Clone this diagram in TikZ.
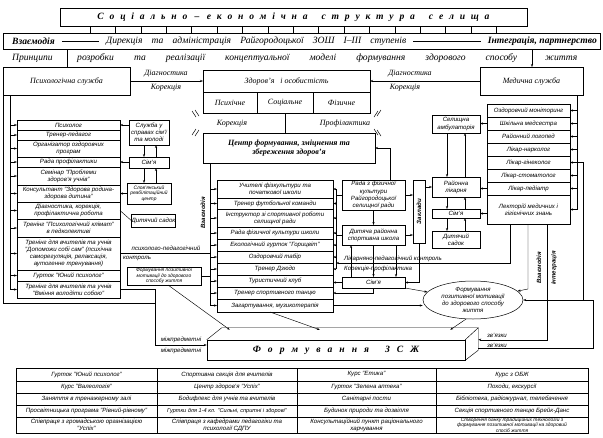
\documentclass[tikz,border=0pt]{standalone}
\usepackage{fontspec}
\usepackage{graphicx}
\setmainfont{Liberation Serif}
\setsansfont{Liberation Sans}
\usetikzlibrary{arrows.meta,calc,shapes.geometric}
\newcommand\tx{\sffamily\itshape\fontsize{6.1}{7.1}\selectfont}
\newcommand\tsm{\sffamily\itshape\fontsize{4.9}{5.5}\selectfont}
\newcommand\hx{\rmfamily\itshape\fontsize{8}{9}\selectfont}
\newcommand\hb{\rmfamily\itshape\fontsize{9.6}{10.5}\selectfont}
\newcommand\Bx[7][]{\node[bx,#1,minimum width={(#5-#3)*1pt},minimum height={(#6-#4)*1pt}] (#2) at ({(#3+#5)/2},{(#4+#6)/2}) {#7};}
\begin{document}
\begin{tikzpicture}[x=1pt,y=-1pt,
  bx/.style={draw,inner sep=0.4pt,outer sep=0pt,align=center,font=\tx,line width=0.5pt},
  ar/.style={-{Stealth[length=3pt,width=2.2pt]},line width=0.45pt},
  ln/.style={line width=0.45pt},
  lb/.style={font=\hx,inner sep=0pt},
  sl/.style={font=\tx,inner sep=0pt}]
\useasboundingbox (0,0) rectangle (603,437);

% ---------- top rows ----------
\Bx[font=\hb\bfseries]{soc}{60}{8}{527}{26}{\spaceskip=5.8pt С о ц і а л ь н о \,–\, е к о н о м і ч н а\hskip14pt с т р у к т у р а\hskip14pt с е л и щ а}
\node[draw,line width=0.5pt,minimum width=597pt,minimum height=16pt,inner sep=0pt] (dir) at (301.5,41) {};
\node[lb,anchor=west,font=\hb\bfseries] (vz) at (12,41) {Взаємодія};
\node[lb,anchor=west,font=\hb] (dr) at (106,41) {\makebox[300pt][s]{Дирекція та адміністрація Райгородоцької ЗОШ І–ІІІ ступенів}};
\node[lb,anchor=east,font=\hb\bfseries] (int) at (597,41) {Інтеграція, партнерство};
\draw[ln,shorten <=7pt,shorten >=7pt] (vz) -- (dr);
\draw[ln,shorten <=7pt,shorten >=7pt] (dr) -- (int);
\foreach \i in {0,...,16}{
  \pgfmathsetmacro\xx{90+\i*25.4}
  \draw[ln] (\xx,0 |- soc.south) -- (\xx,0 |- dir.north);
}
\node[lb,anchor=west,font=\hb] (pr) at (12,58) {Принципи};
\node[lb,anchor=west,font=\hb] (rz) at (77,58) {\makebox[440pt][s]{розробки та реалізації концептуальної моделі формування здорового способу}};
\node[lb,anchor=west,font=\hb] (zh) at (545,58) {життя};

% ---------- services ----------
\Bx[font=\hx]{psy}{3}{67}{130}{95}{Психологічна служба}
\Bx[font=\hx]{hl}{203}{70}{370}{92}{Здоров’я \ \ і особистість}
\Bx[font=\hx]{ps1}{203}{92}{257}{113}{Психічне}
\Bx[font=\hx]{ps2}{257}{92}{313}{113}{Соціальне}
\Bx[font=\hx]{ps3}{313}{92}{370}{113}{Фізичне}
\Bx[font=\hx]{med}{480}{67}{583}{95}{Медична служба}
\draw[ln] (67,0 |- dir.south) -- (67,0 |- psy.north);
\draw[ar] (532,0 |- dir.south) -- (532,0 |- med.north);
\node[lb] (d1) at (166,74) {Діагностика};
\node[lb] (k1) at (166,88) {Корекція};
\node[lb] (d2) at (410,74) {Діагностика};
\node[lb] (k2) at (405,88) {Корекція};
\draw[ar] (psy) -- (hl);
\draw[ar] (med) -- (hl);

\Bx[font=\hx\bfseries]{cen}{203}{133}{375}{163}{Центр формування, зміцнення та\\збереження здоров’я}
\draw[ln] (ps2.south) -- (ps2.south |- cen.north);
\node[lb] (kor) at (232,124) {Корекція};
\node[lb] (prf) at (345,124) {Профілактика};
\draw[ln] (192,111) -- (196,117) (195,110) -- (199,116);
\draw[ln] (378,111) -- (374,117) (381,110) -- (377,116);
\draw[ln] (192,135) -- (196,129) (195,136) -- (199,130);
\draw[ln] (378,135) -- (374,129) (381,136) -- (377,130);

% ---------- left list ----------
\Bx{l1}{17}{120}{120}{130}{Психолог}
\Bx{l2}{17}{130}{120}{140}{Тренер-педагог}
\Bx{l3}{17}{140}{120}{157}{Організатор оздоровчих\\програм}
\Bx{l4}{17}{157}{120}{167}{Рада профілактики}
\Bx{l5}{17}{167}{120}{185}{Семінар "Проблеми\\здоров’я учнів"}
\Bx{l6}{17}{185}{120}{202}{Консультант "Здорова родина-\\здорова дитина"}
\Bx{l7}{17}{202}{120}{219}{Діагностика, корекція,\\профілактична робота}
\Bx{l8}{17}{219}{120}{237}{Тренінг "Психологічний клімат"\\в педколективі}
\Bx{l9}{17}{237}{120}{270}{Тренінг для вчителів та учнів\\"Допоможи собі сам" (психічна\\саморегуляція, релаксація,\\аутогенне тренування)}
\Bx{l10}{17}{270}{120}{281}{Гурток "Юний психолог"}
\Bx{l11}{17}{281}{120}{298}{Тренінг для вчителів та учнів\\"Вміння володіти собою"}
\draw[ln] (10,0 |- psy.south) -- (10,0 |- l11.west);
\foreach \i in {1,...,11}{\draw[ar] (10,0 |- l\i.west) -- (l\i.west);}

\Bx{slu}{129}{120}{169}{145}{Служба у\\справах сім’ї\\та молоді}
\Bx{siml}{129}{157}{169}{168}{Сім’я}
\Bx[font=\tsm]{slov}{127}{183}{171}{204}{Слов’янський\\реабілітаційний\\центр}
\Bx{sadl}{133}{214}{174}{227}{Дитячий садок}
\draw[ar] (slu.west |- l1.east) -- (l1.east);
\draw[ar] (siml.west |- l4.east) -- (l4.east);
\draw[ar] (slov.west |- l6.east) -- (l6.east);
\draw[ar] (144,0 |- slu.south) -- (144,0 |- siml.north);
\draw[ar] (156,0 |- siml.north) -- (156,0 |- slu.south);
\draw[ar] (144,0 |- siml.south) -- (144,0 |- slov.north);
\draw[ar] (156,0 |- slov.north) -- (156,0 |- siml.south);
\draw[ln] (l7.east) -- (sadl.west);
\node[sl,rotate=90,font=\tx\bfseries] (vzl) at (203,213) {Взаємодія};

\node[sl] (ppk1) at (166,248) {психолого-педагогічний};
\node[sl] (ppk2) at (137,258) {контроль};
\draw[ln] (l9.east |- 0,253) -- (210,253);

\Bx[font=\tsm]{fm}{127}{267}{201}{285}{Формування позитивної\\мотивації до здорового\\способу життя}

% ---------- centre list ----------
\Bx{c1}{217}{180}{333}{198}{Учителі фізкультури та\\початкової школи}
\Bx{c2}{217}{198}{333}{209}{Тренер футбольної команди}
\Bx{c3}{217}{209}{333}{227}{Інструктор зі спортивної роботи\\селищної ради}
\Bx{c4}{217}{227}{333}{239}{Рада фізичної культури школи}
\Bx{c5}{217}{239}{333}{251}{Екологічний гурток "Горицвіт"}
\Bx{c6}{217}{251}{333}{263}{Оздоровчий табір}
\Bx{c7}{217}{263}{333}{275}{Тренер Дзюдо}
\Bx{c8}{217}{275}{333}{287}{Туристичний клуб}
\Bx{c9}{217}{287}{333}{299}{Тренер спортивного танцю}
\Bx{c10}{217}{299}{333}{312}{Загартування, музикотерапія}
\draw[ln] (210,0 |- cen.south) -- (210,0 |- c10.west);
\foreach \i in {1,...,10}{\draw[ar] (210,0 |- c\i.west) -- (c\i.west);}
\draw[ln] (fm.east) -- (210,0 |- fm.east);
\draw[ln] (336,0 |- c1.east) -- (336,0 |- c7.east);
\foreach \i in {1,...,7}{\draw[ar] (336,0 |- c\i.east) -- (c\i.east);}

\Bx{rada}{342}{180}{405}{210}{Рада з фізичної\\культури\\Райгородоцької\\селищної ради}
\Bx{dyt}{342}{225}{405}{245}{Дитяча районна\\спортивна школа}
\Bx{simc}{342}{277}{405}{288}{Сім’я}
\draw[ln] (rada.west) -- (336,0 |- rada.west);
\draw[ln] (dyt.west) -- (336,0 |- dyt.west);
\draw[ar] (rada.south) -- (dyt.north);
\draw[ar] (dyt.south) -- (simc.north);
\draw[ar] (351,0 |- simc.north) -- (351,0 |- dyt.south);
\draw[ar] (396,0 |- dyt.south) -- (396,0 |- simc.north);
\draw[ar] (390,0 |- rada.north) |- (cen.east);
\draw[ar] (simc.west) -- (simc.west -| c8.east);
\draw[ar] (simc.south) |- (c9.east);

\Bx{zak}{413}{180}{425}{243}{\rotatebox{90}{\bfseries Заклади}}
\draw[ar] (rada.east) -- (rada.east -| zak.west);
\draw[ar] (dyt.east) -- (dyt.east -| zak.west);
\draw[ar] (zak.south) |- (simc.east);

% ---------- right column ----------
\Bx{amb}{432}{115}{480}{133}{Селищна\\амбулаторія}
\Bx{lik}{432}{177}{480}{197}{Районна\\лікарня}
\Bx{simr}{432}{209}{480}{218}{Сім’я}
\Bx{sadr}{432}{231}{480}{248}{Дитячий\\садок}
\draw[ar] (zak.east |- lik.west) -- (lik.west);
\draw[ar] (447,0 |- amb.south) -- (447,0 |- lik.north);
\draw[ar] (465,0 |- lik.north) -- (465,0 |- amb.south);
\draw[ar] (447,0 |- lik.south) -- (447,0 |- simr.north);
\draw[ar] (465,0 |- simr.north) -- (465,0 |- lik.south);
\draw[ar] (447,0 |- simr.south) -- (447,0 |- sadr.north);
\draw[ar] (465,0 |- sadr.north) -- (465,0 |- simr.south);

\Bx{m1}{487}{104}{570}{117}{Оздоровчий моніторинг}
\Bx{m2}{487}{117}{570}{130}{Шкільна медсестра}
\Bx{m3}{487}{130}{570}{143}{Районний логопед}
\Bx{m4}{487}{143}{570}{156}{Лікар-нарколог}
\Bx{m5}{487}{156}{570}{169}{Лікар-гінеколог}
\Bx{m6}{487}{169}{570}{182}{Лікар-стоматолог}
\Bx{m7}{487}{182}{570}{195}{Лікар-педіатр}
\Bx{m8}{487}{195}{570}{224}{Лекторій медичних і\\гігієнічних знань}
\draw[ln] (577,0 |- med.south) -- (577,0 |- m8.east);
\foreach \i in {1,...,8}{\draw[ar] (577,0 |- m\i.east) -- (m\i.east);}
\draw[ar] (m2.west) -- (m2.west -| amb.east);
\draw[ar] (m7.west) -- (m7.west -| lik.east);
\draw[ar] (simr.east -| m8.west) -- (simr.east);

\coordinate (lpk) at (336,263);
\draw[ar] (510,0 |- m8.south) |- (lpk);
\node[sl,anchor=west] (lpk1) at (344,259) {Лікарняно-педагогічний контроль};
\node[sl,anchor=west] (lpk2) at (344,269) {Корекція-профілактика};

% ---------- ellipse and ZSZh ----------
\node[draw,ellipse,line width=0.5pt,minimum width=100pt,minimum height=38pt,inner sep=0pt,font=\tx,align=center] (ell) at (473,300) {Формування\\позитивної мотивації\\до здорового способу\\життя};
\draw[ar] (simc.south east) -- (ell);
\draw[ar] (c10.east) -- (c10.east -| ell.west);

\node[draw,line width=0.5pt,minimum width=258pt,minimum height=20pt,inner sep=0pt,font=\hb\bfseries] (zsj) at (336,350) {\spaceskip=7pt Ф о р м у в а н н я\hskip16pt З С Ж};
\draw[ln] (zsj.north west) -- ++(15,-12) -- ($(zsj.north east)+(13,-12)$) -- (zsj.north east);
\draw[ln] ($(zsj.north east)+(13,-12)$) -- ($(zsj.south east)+(13,-10)$) -- (zsj.south east);
\coordinate (zr1) at ($(zsj.north east)+(13,0)$);
\coordinate (zr2) at ($(zsj.north east)+(13,8)$);

\draw[ar] ($(fm.south)+(4,0)$) -- ($(zsj.north west)+(23,-10)$);
\draw[ar] ($(c10.south)+(-5,0)$) -- ($(zsj.north west)+(113,-10)$);
\draw[ar] (ell.250) -- ($(zsj.north east)+(-15,-10)$);

\draw[ar] (l11.east) -- (155,0 |- l11.east) -- (155,345) -- (zsj.west |- 0,345);
\draw[ln] (psy.south west) -- (3,303) -- (155,303);
\node[sl] (mp1) at (181,340) {міжпредметні};
\node[sl] (mp2) at (181,351) {міжпредметні};

\draw[ar] (528,0 |- m8.south) -- (528,289) -- (ell);
\draw[ar] (547,0 |- m8.south) |- (zr1);
\draw[ar] (577,0 |- m5.east) -- (583,0 |- m5.east) -- (583,300) -- (ell.east);
\draw[ln] (zr2) -- (593,0 |- zr2) -- (593,300) -- (583,300);
\node[sl] (zv1) at (497,335) {зв’язки};
\node[sl] (zv2) at (497,345) {зв’язки};
\node[sl,rotate=90,font=\tx\bfseries] (vzr) at (539,268) {Взаємодія};
\node[sl,rotate=90,font=\tx\bfseries] (inr) at (554,268) {інтеграція};

% ---------- table ----------
\Bx{t11}{16}{368}{157}{381}{Гурток "Юний психолог"}
\Bx{t12}{157}{368}{297}{381}{Спортивна секція для вчителів}
\Bx{t13}{297}{368}{436}{381}{Курс "Етика"}
\Bx{t14}{436}{368}{588}{381}{Курс з ОБЖ}
\Bx{t21}{16}{381}{157}{393}{Курс "Валеологія"}
\Bx{t22}{157}{381}{297}{393}{Центр здоров’я "Успіх"}
\Bx{t23}{297}{381}{436}{393}{Гурток "Зелена аптека"}
\Bx{t24}{436}{381}{588}{393}{Походи, екскурсії}
\Bx{t31}{16}{393}{157}{405}{Заняття в тренажерному залі}
\Bx{t32}{157}{393}{297}{405}{Бодифлекс для учнів та вчителів}
\Bx{t33}{297}{393}{436}{405}{Санітарні пости}
\Bx{t34}{436}{393}{588}{405}{Бібліотека, радіожурнал, телебачення}
\Bx{t41}{16}{405}{157}{417}{Просвітницька програма "Рівний-рівному"}
\Bx[font=\sffamily\itshape\fontsize{5.6}{6.6}\selectfont]{t42}{157}{405}{297}{417}{Гуртки для 1-4 кл. "Сильні, спритні і здорові"}
\Bx{t43}{297}{405}{436}{417}{Будинок природи та дозвілля}
\Bx{t44}{436}{405}{588}{417}{Секція спортивного танцю Брейк-Данс}
\Bx{t51}{16}{417}{157}{433}{Співпраця з громадською організацією\\"Успіх"}
\Bx{t52}{157}{417}{297}{433}{Співпраця з кафедрами педагогіки та\\психології СДПУ}
\Bx{t53}{297}{417}{436}{433}{Консультаційний пункт раціонального\\харчування}
\Bx[font=\tsm]{t54}{436}{417}{588}{433}{Створення банку традиційних технологій з\\формування позитивної мотивації на здоровий\\спосіб життя}
\end{tikzpicture}
\end{document}
